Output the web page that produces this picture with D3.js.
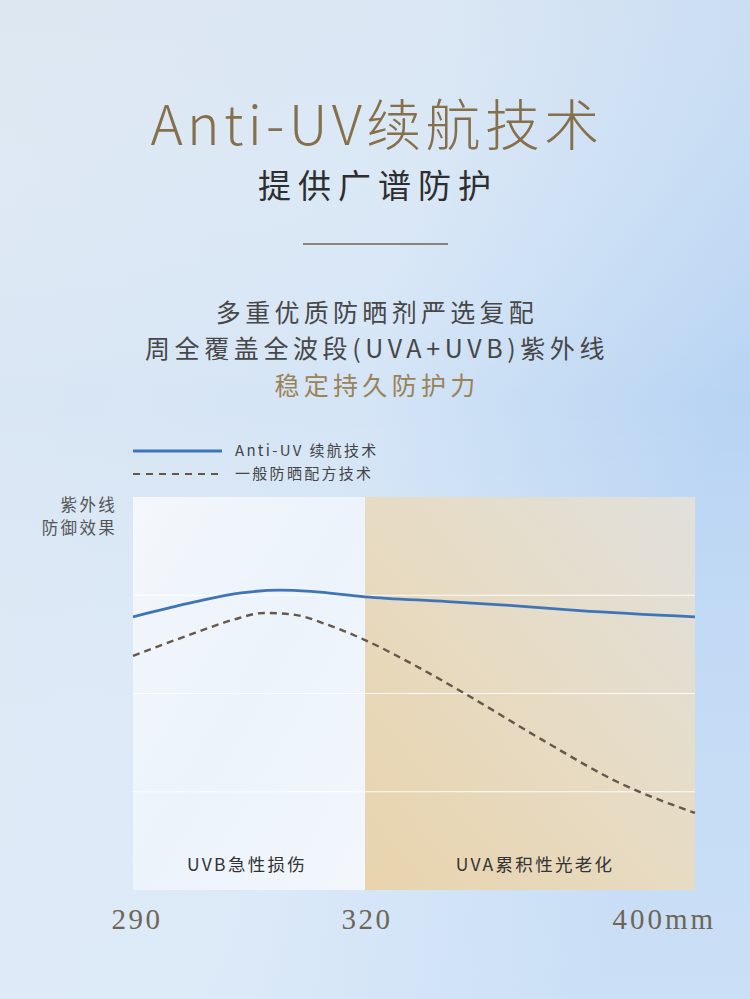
<!DOCTYPE html>
<html>
<head>
<meta charset="utf-8">
<script src="https://cdn.jsdelivr.net/npm/d3@7"></script>
<style>
  html, body { margin: 0; padding: 0; background: #d8e6f5; }
  svg { display: block; }
</style>
</head>
<body>
<svg width="750" height="999"></svg>
<script>
// wavelength (nm) -> protection score (0..100)
let antiUV = [
    {w: 290, v: 69.5}, {w: 298, v: 73.3}, {w: 304, v: 75.6}, {w: 309, v: 76.3},
    {w: 313, v: 76.0}, {w: 320, v: 74.6}, {w: 340, v: 73.4}, {w: 355, v: 72.4},
    {w: 372, v: 71.1}, {w: 400, v: 69.5}
];
let general = [
    {w: 290, v: 59.6}, {w: 298, v: 65.4}, {w: 303, v: 68.8}, {w: 307, v: 70.5},
    {w: 311, v: 70.0}, {w: 315, v: 67.6}, {w: 320, v: 63.6}, {w: 332, v: 57.2},
    {w: 344, v: 50.1}, {w: 363, v: 38.2}, {w: 381, v: 27.6}, {w: 400, v: 19.6}
];
let ticks = [290, 320, 400];
let tickLabels = ["290", "320", "400mm"];
let gridValues = [25, 50, 75];
let regions = [
    {from: 290, to: 320, label: "UVB急性损伤"},
    {from: 320, to: 400, label: "UVA累积性光老化"}
];
let legendItems = ["Anti-UV 续航技术", "一般防晒配方技术"];
let titleText = "Anti-UV续航技术";
let subtitleText = "提供广谱防护";
let bodyLines = ["多重优质防晒剂严选复配", "周全覆盖全波段(UVA+UVB)紫外线", "稳定持久防护力"];
let yLabel = ["紫外线", "防御效果"];

let margin = ({top: 497, right: 55, bottom: 109, left: 133});
let width = 750, height = 999;

let svg = d3.select("svg");
let defs = svg.append("defs");

let bg = defs.append("linearGradient").attr("id", "bg")
    .attr("x1", 0).attr("y1", 0).attr("x2", 1).attr("y2", 0.3);
bg.append("stop").attr("offset", "0%").attr("stop-color", "#dae6f3");
bg.append("stop").attr("offset", "55%").attr("stop-color", "#d5e5f6");
bg.append("stop").attr("offset", "100%").attr("stop-color", "#b8d4f3");

let bg2 = defs.append("linearGradient").attr("id", "bgv")
    .attr("x1", 0).attr("y1", 0).attr("x2", 0).attr("y2", 1);
bg2.append("stop").attr("offset", "0%").attr("stop-color", "#e3e9ef").attr("stop-opacity", 0.35);
bg2.append("stop").attr("offset", "40%").attr("stop-color", "#ffffff").attr("stop-opacity", 0);
bg2.append("stop").attr("offset", "100%").attr("stop-color", "#e6f0fb").attr("stop-opacity", 0.4);

let uvb = defs.append("linearGradient").attr("id", "uvb")
    .attr("x1", 0).attr("y1", 0).attr("x2", 1).attr("y2", 1);
uvb.append("stop").attr("offset", "0%").attr("stop-color", "#f4f7fb");
uvb.append("stop").attr("offset", "50%").attr("stop-color", "#ecf3fb");
uvb.append("stop").attr("offset", "100%").attr("stop-color", "#f3f7fc");

let uva = defs.append("linearGradient").attr("id", "uva")
    .attr("x1", 1).attr("y1", 0).attr("x2", 0).attr("y2", 1);
uva.append("stop").attr("offset", "0%").attr("stop-color", "#e1e0dc");
uva.append("stop").attr("offset", "50%").attr("stop-color", "#e7dbc3");
uva.append("stop").attr("offset", "100%").attr("stop-color", "#e8d3ac");

svg.append("rect").attr("width", width).attr("height", height).attr("fill", "url(#bg)");
svg.append("rect").attr("width", width).attr("height", height).attr("fill", "url(#bgv)");

// heading
svg.append("text")
    .attr("x", 377).attr("y", 145)
    .attr("text-anchor", "middle")
    .attr("font-family", "'Noto Sans CJK SC', sans-serif")
    .attr("font-weight", 300)
    .attr("font-size", 55)
    .attr("letter-spacing", 4.3)
    .attr("fill", "#86704c")
    .text(titleText);

svg.append("text")
    .attr("x", 378).attr("y", 198)
    .attr("text-anchor", "middle")
    .attr("font-family", "'Noto Sans CJK SC', sans-serif")
    .attr("font-size", 33)
    .attr("letter-spacing", 7)
    .attr("fill", "#2e2e2e")
    .text(subtitleText);

svg.append("line")
    .attr("x1", 303).attr("x2", 448).attr("y1", 244).attr("y2", 244)
    .attr("stroke", "#6f6352").attr("stroke-width", 1.5);

svg.append("g")
    .attr("font-family", "'Noto Sans CJK SC', sans-serif")
    .attr("font-size", 25)
    .attr("text-anchor", "middle")
    .selectAll("text")
    .data(bodyLines)
    .join("text")
    .attr("x", 377)
    .attr("y", (d, i) => 322 + i * 36.4)
    .attr("letter-spacing", (d, i) => i === 1 ? 4.6 : 4.3)
    .attr("fill", (d, i) => i === 2 ? "#9a8259" : "#474747")
    .text(d => d);

// scales
let x = d3.scaleLinear()
    .domain([290, 320, 400])
    .range([margin.left, 365, width - margin.right]);
let y = d3.scaleLinear()
    .domain([0, 100])
    .range([height - margin.bottom, margin.top]);

// regions
svg.append("g")
    .selectAll("rect")
    .data(regions)
    .join("rect")
    .attr("x", d => x(d.from))
    .attr("y", y(100))
    .attr("width", d => x(d.to) - x(d.from))
    .attr("height", y(0) - y(100))
    .attr("fill", (d, i) => i === 0 ? "url(#uvb)" : "url(#uva)");

// grid
svg.append("g")
    .selectAll("line")
    .data(gridValues)
    .join("line")
    .attr("x1", x(290)).attr("x2", x(400))
    .attr("y1", d => y(d)).attr("y2", d => y(d))
    .attr("stroke", "#ffffff").attr("stroke-width", 1.2)
    .attr("stroke-opacity", 0.9);

// region labels
svg.append("g")
    .attr("font-family", "'Noto Sans CJK SC', sans-serif")
    .attr("font-size", 17.5)
    .attr("text-anchor", "middle")
    .attr("letter-spacing", 2.3)
    .attr("fill", "#333333")
    .selectAll("text")
    .data(regions)
    .join("text")
    .attr("x", (d, i) => i === 0 ? x(d.from) + 114 : x(d.from) + 170)
    .attr("y", 871)
    .text(d => d.label);

// lines
let line = d3.line()
    .x(d => x(d.w))
    .y(d => y(d.v))
    .curve(d3.curveMonotoneX);

svg.append("path")
    .datum(general)
    .attr("fill", "none")
    .attr("stroke", "#65584a")
    .attr("stroke-width", 2.4)
    .attr("stroke-dasharray", "7,5")
    .attr("d", line);

svg.append("path")
    .datum(antiUV)
    .attr("fill", "none")
    .attr("stroke", "#3f75b7")
    .attr("stroke-width", 2.8)
    .attr("d", line);

// x tick labels
svg.append("g")
    .attr("font-family", "'Liberation Serif', 'DejaVu Serif', serif")
    .attr("font-size", 29)
    .attr("fill", "#6f6555")
    .selectAll("text")
    .data(ticks)
    .join("text")
    .attr("x", (d, i) => i === 2 ? x(d) + 21 : x(d) + (i === 0 ? 4 : 2))
    .attr("y", 929)
    .attr("text-anchor", (d, i) => i === 2 ? "end" : "middle")
    .attr("letter-spacing", (d, i) => i === 2 ? 3 : 2.5)
    .text((d, i) => tickLabels[i]);

// y label
svg.append("g")
    .attr("font-family", "'Noto Sans CJK SC', sans-serif")
    .attr("font-size", 16.5)
    .attr("text-anchor", "end")
    .attr("letter-spacing", 2.3)
    .attr("fill", "#555555")
    .selectAll("text")
    .data(yLabel)
    .join("text")
    .attr("x", 117)
    .attr("y", (d, i) => 511 + i * 23)
    .text(d => d);

// legend
let legend = svg.append("g")
    .selectAll("g")
    .data(legendItems)
    .join("g")
    .attr("transform", (d, i) => `translate(133,${451 + i * 23})`);

legend.append("line")
    .attr("x1", 0).attr("x2", 89)
    .attr("stroke", (d, i) => i === 0 ? "#3f75b7" : "#65584a")
    .attr("stroke-width", (d, i) => i === 0 ? 2.8 : 2)
    .attr("stroke-dasharray", (d, i) => i === 0 ? null : "7,6");

legend.append("text")
    .attr("x", 102)
    .attr("dy", "0.35em")
    .attr("font-family", "'Noto Sans CJK SC', sans-serif")
    .attr("font-size", 15)
    .attr("letter-spacing", 2.3)
    .attr("fill", "#444444")
    .text(d => d);
</script>
</body>
</html>
